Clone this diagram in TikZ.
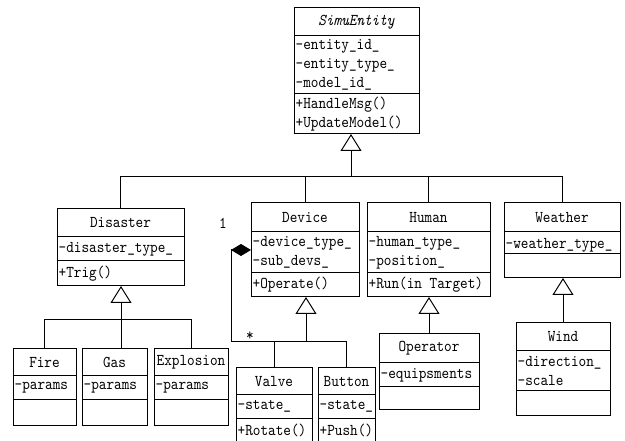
\documentclass[tikz,border=0pt]{standalone}
\usepackage{fontspec}
\usetikzlibrary{arrows.meta,calc}

% monospaced face for class texts, slightly condensed
\newfontfamily\umltt{lmmono10-regular}[Extension=.otf, ItalicFont=lmmono10-italic, FakeStretch=0.88]

\tikzset{
  umlfont/.style={font=\fontsize{16.5}{19}\selectfont\umltt},
  classbox/.style={draw, line width=1pt, rectangle, inner sep=0pt, outer sep=0pt},
  sepline/.style={line width=1pt},
  title/.style={umlfont, inner sep=0pt},
  members/.style={umlfont, anchor=west, align=left, inner sep=0pt, xshift=1.5pt},
  link/.style={line width=1pt},
  gen/.style={link, -{Triangle[open, length=17pt, width=21pt, line width=1pt]}},
  comp/.style={link, {Diamond[length=20pt, width=12pt]}-},
  mult/.style={umlfont, inner sep=0pt}
}

% #1 name, #2 left, #3 top, #4 right, #5 first separator, #6 second separator, #7 bottom
\newcommand\umlclass[7]{%
  \node[classbox, minimum width={(#4-#2)*1pt}, minimum height={(#7-#3)*1pt}]
    (#1) at ({(#2+#4)/2},{(#3+#7)/2}) {};
  \draw[sepline] (#2,#5) -- (#4,#5) (#2,#6) -- (#4,#6);
  \coordinate (#1-t) at ({(#2+#4)/2},{(#3+#5)/2});
  \coordinate (#1-a) at (#2,{(#5+#6)/2});
  \coordinate (#1-o) at (#2,{(#6+#7)/2});
}

\begin{document}
\begin{tikzpicture}[x=1pt, y=-1pt]
  \useasboundingbox (0,0) rectangle (625,441);
  \fill[white] (0,0) rectangle (625,441);
  \clip (0,0) rectangle (625,441);

  % class boxes
  \umlclass{se}{294}{8}{419}{36}{94}{134}
  \umlclass{dis}{57}{209}{184}{237}{261}{286}
  \umlclass{dev}{251}{203}{359}{232}{273}{297}
  \umlclass{hum}{367}{203}{490}{232}{273}{297}
  \umlclass{wea}{504}{203}{620}{232}{254}{278}
  \umlclass{fire}{13}{349}{76}{376}{400}{425}
  \umlclass{gas}{82}{349}{147}{376}{400}{425}
  \umlclass{expl}{154}{349}{228}{376}{400}{425}
  \umlclass{valve}{236}{368}{312}{395}{418}{452}
  \umlclass{button}{318}{368}{375}{395}{418}{452}
  \umlclass{op}{379}{334}{479}{363}{387}{410}
  \umlclass{wind}{516}{323}{610}{351}{391}{415}

  % class texts
  \node[title] (se-name) at (se-t) {\itshape SimuEntity};
  \node[members] (se-attr) at (se-a) {-entity\_id\_\\-entity\_type\_\\-model\_id\_};
  \node[members] (se-ops) at (se-o) {+HandleMsg()\\+UpdateModel()};

  \node[title] (dis-name) at (dis-t) {Disaster};
  \node[members] (dis-attr) at (dis-a) {-disaster\_type\_};
  \node[members] (dis-ops) at (dis-o) {+Trig()};

  \node[title] (dev-name) at (dev-t) {Device};
  \node[members] (dev-attr) at (dev-a) {-device\_type\_\\-sub\_devs\_};
  \node[members] (dev-ops) at (dev-o) {+Operate()};

  \node[title] (hum-name) at (hum-t) {Human};
  \node[members] (hum-attr) at (hum-a) {-human\_type\_\\-position\_};
  \node[members] (hum-ops) at (hum-o) {+Run(in Target)};

  \node[title] (wea-name) at (wea-t) {Weather};
  \node[members, yshift=-2pt] (wea-attr) at (wea-a) {-weather\_type\_};

  \node[title] (fire-name) at (fire-t) {Fire};
  \node[members] (fire-attr) at (fire-a) {-params};
  \node[title] (gas-name) at (gas-t) {Gas};
  \node[members] (gas-attr) at (gas-a) {-params};
  \node[title] (expl-name) at (expl-t) {Explosion};
  \node[members] (expl-attr) at (expl-a) {-params};

  \node[title] (valve-name) at (valve-t) {Valve};
  \node[members] (valve-attr) at (valve-a) {-state\_};
  \node[members] (valve-ops) at (236,430) {+Rotate()};
  \node[title] (button-name) at (button-t) {Button};
  \node[members] (button-attr) at (button-a) {-state\_};
  \node[members] (button-ops) at (318,430) {+Push()};

  \node[title] (op-name) at (op-t) {Operator};
  \node[members] (op-attr) at (op-a) {-equipsments};

  \node[title] (wind-name) at (wind-t) {Wind};
  \node[members] (wind-attr) at (wind-a) {-direction\_\\-scale};

  % generalization: SimuEntity and its four subclasses
  \coordinate (sebus) at (351,177);
  \draw[gen] (sebus) -- (sebus |- se.south);
  \draw[link] (dis.north) -- (dis.north |- sebus) -- (wea.north |- sebus) -- (wea.north);
  \draw[link] (dev.north) -- (dev.north |- sebus);
  \draw[link] (hum.north) -- (hum.north |- sebus);

  % generalization: Disaster
  \coordinate (disbus) at (121,320);
  \draw[gen] (disbus) -- (disbus |- dis.south);
  \draw[link] (fire.north) -- (fire.north |- disbus) -- (expl.north |- disbus) -- (expl.north);
  \draw[link] (disbus) -- (disbus |- gas.north);

  % generalization: Device
  \coordinate (devbus) at (306,342);
  \draw[gen] (devbus) -- (devbus |- dev.south);
  \draw[link] (valve.north) -- (valve.north |- devbus) -- (button.north |- devbus) -- (button.north);

  % generalization: Human and Weather
  \draw[gen] (op.north) -- (op.north |- hum.south);
  \draw[gen] (wind.north) -- (wind.north |- wea.south);

  % composition: Device owns sub-devices
  \draw[comp] (dev.west) -- ++(-20,0) |- (valve.north |- devbus);
  \node[mult] (m-one) at (223,223) {1};
  \node[mult] (m-many) at (250,336) {*};
\end{tikzpicture}
\end{document}
